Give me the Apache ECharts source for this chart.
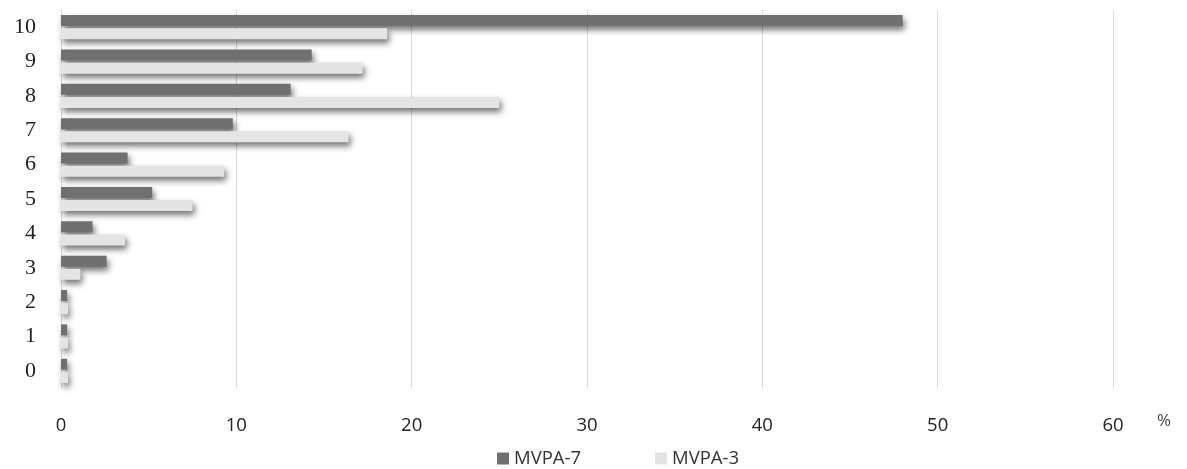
<!DOCTYPE html>
<html>
<head>
<meta charset="utf-8">
<script src="https://cdn.jsdelivr.net/npm/echarts@6/dist/echarts.min.js"></script>
<style>html,body{margin:0;padding:0;background:#fff}#c{width:1187px;height:469px}</style>
</head>
<body>
<div id="c"></div>
<script>
const categories = ['0','1','2','3','4','5','6','7','8','9','10'];
const mvpa7 = [0.35, 0.35, 0.35, 2.6, 1.8, 5.2, 3.8, 9.8, 13.1, 14.3, 48.0];
const mvpa3 = [0.4, 0.4, 0.4, 1.1, 3.65, 7.5, 9.3, 16.4, 25.0, 17.2, 18.6];
const xTicks = [0, 10, 20, 30, 40, 50, 60];

const chart = echarts.init(document.getElementById('c'));
const shadow = {shadowColor:'rgba(0,0,0,0.55)', shadowBlur:6, shadowOffsetX:2, shadowOffsetY:4};
chart.setOption({
  animation:false,
  grid:{left:61, right:74, top:10, bottom:81, containLabel:false},
  legend:{
    bottom:-4, left:492, itemWidth:12, itemHeight:12, itemGap:74,
    icon:'rect',
    textStyle:{fontFamily:'Open Sans', fontSize:18.5, color:'#333'},
    data:['MVPA-7','MVPA-3']
  },
  xAxis:{
    type:'value', min:xTicks[0], max:xTicks[xTicks.length-1], interval:10,
    axisLine:{show:false}, axisTick:{show:false},
    splitLine:{lineStyle:{color:'#d9d9d9', width:1}},
    axisLabel:{margin:28, fontFamily:'Open Sans', fontSize:18.5, color:'#222'}
  },
  yAxis:{
    type:'category', data:categories,
    axisLine:{show:true, lineStyle:{color:'#d9d9d9'}}, axisTick:{show:false},
    axisLabel:{margin:25, fontFamily:'Liberation Serif', fontSize:22, color:'#222'}
  },
  graphic:[{type:'text', left:1157, top:413, style:{text:'%', font:'17px "Open Sans"', fill:'#444'}}],
  series:[
    {name:'MVPA-7', type:'bar', data:mvpa7, barWidth:11, barGap:'20%',
     itemStyle:Object.assign({color:'#707070'}, shadow)},
    {name:'MVPA-3', type:'bar', data:mvpa3, barWidth:11, barGap:'20%',
     itemStyle:Object.assign({color:'#e4e4e4'}, shadow)}
  ]
});
</script>
</body>
</html>
